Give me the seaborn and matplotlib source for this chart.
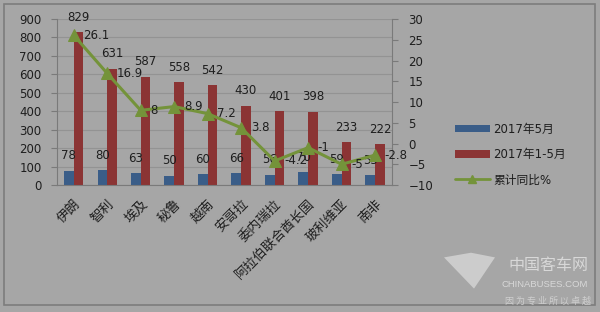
import numpy as np
import pandas as pd
import matplotlib
matplotlib.use("Agg")
import matplotlib.pyplot as plt
import seaborn as sns
from matplotlib.patches import Patch, Rectangle, Polygon
from matplotlib.lines import Line2D

# ---- data ----
countries = ["伊朗", "智利", "埃及", "秘鲁", "越南", "安哥拉", "委内瑞拉",
             "阿拉伯联合酋长国", "玻利维亚", "南非"]
may_2017 = [78, 80, 63, 50, 60, 66, 56, 70, 59, 55]
jan_may_2017 = [829, 631, 587, 558, 542, 430, 401, 398, 233, 222]
yoy_pct = [26.1, 16.9, 8, 8.9, 7.2, 3.8, -4.2, -1, -5, -2.8]
series_names = ["2017年5月", "2017年1-5月", "累计同比%"]
left_ticks = list(range(0, 1000, 100))
right_ticks = list(range(-10, 35, 5))

# ---- style ----
BG = "#a6a6a6"
BLUE = "#3a5d88"
RED = "#8b3434"
GREEN = "#74933a"
TXT = "#1e1e1e"
AXC = "#7a7a7a"
GRID = "#939393"

sns.set_theme(style="white")
plt.rcParams["font.family"] = ["DejaVu Sans", "Noto Sans CJK SC"]

df = pd.DataFrame({
    "country": countries * 2,
    "value": may_2017 + jan_may_2017,
    "series": [series_names[0]] * len(countries) + [series_names[1]] * len(countries),
})

fig = plt.figure(figsize=(6.0, 3.12), dpi=100, facecolor=BG)
ax = fig.add_axes([0.095, 0.407, 0.558, 0.532])
ax.set_facecolor(BG)

sns.barplot(data=df, x="country", y="value", hue="series",
            palette=[BLUE, RED], width=0.58, ax=ax, legend=False,
            saturation=1, edgecolor="none")

ax.set_ylim(0, 900)
ax.set_yticks(left_ticks)
ax.set_xlim(-0.5, len(countries) - 0.5)
ax.yaxis.grid(True, color=GRID, linewidth=0.8)
ax.set_axisbelow(True)
ax.set_xlabel("")
ax.set_ylabel("")

for c in ax.containers:
    ax.bar_label(c, padding=6, fontsize=8.5, color=TXT)

ax.tick_params(axis="y", length=4, width=0.8, color=AXC, labelsize=8.5,
               labelcolor=TXT, pad=7, direction="out")
ax.tick_params(axis="x", which="major", length=0, pad=9)
ax.set_xticks(np.arange(-0.5, len(countries), 1.0), minor=True)
ax.tick_params(axis="x", which="minor", length=4, width=0.8, color=AXC,
               direction="out")
ax.set_xticklabels(countries, rotation=45, ha="right", rotation_mode="anchor",
                   fontsize=9.5, color=TXT, family=["Noto Sans CJK SC"])

for s in ["left", "bottom"]:
    ax.spines[s].set_color(AXC)
    ax.spines[s].set_linewidth(0.8)
ax.spines["top"].set_visible(False)
ax.spines["right"].set_visible(False)

ax2 = ax.twinx()
xpos = np.arange(len(countries))
sns.lineplot(x=xpos, y=yoy_pct, ax=ax2, color=GREEN, linewidth=2.2,
             marker="^", markersize=8.5, markeredgecolor=GREEN, legend=False)
ax2.set_ylim(-10, 30)
ax2.set_yticks(right_ticks)
ax2.tick_params(axis="y", length=4, width=0.8, color=AXC, labelsize=8.5,
                labelcolor=TXT, pad=8, direction="out")
for s in ["left", "top", "bottom"]:
    ax2.spines[s].set_visible(False)
ax2.spines["right"].set_color(AXC)
ax2.spines["right"].set_linewidth(0.8)
ax2.set_ylabel("")
ax2.grid(False)
for x, v in zip(xpos, yoy_pct):
    ax2.annotate(f"{v:g}", (x, v), xytext=(7, 0), textcoords="offset points",
                 ha="left", va="center", fontsize=8.5, color=TXT)

# legend
handles = [Patch(facecolor=BLUE, edgecolor="none"),
           Patch(facecolor=RED, edgecolor="none"),
           Line2D([0], [0], color=GREEN, lw=2, marker="^", markersize=6)]
leg = fig.legend(handles, series_names, loc="center left",
                 bbox_to_anchor=(0.74, 0.505), frameon=False, fontsize=8.5,
                 handlelength=3.0, handleheight=0.6, handletextpad=0.3,
                 labelspacing=1.05, labelcolor=TXT)

# frame border
fig.patches.append(Rectangle((0.006, 0.022), 0.986, 0.966, transform=fig.transFigure,
                             fill=False, edgecolor="#7d7d7d", linewidth=1.2))

# watermark
fig.patches.append(Polygon([[0.740, 0.175], [0.785, 0.19], [0.825, 0.175],
                            [0.79, 0.075]], closed=True, transform=fig.transFigure,
                           facecolor="#d6d6d6", edgecolor="none", alpha=0.8))
fig.text(0.98, 0.15, "中国客车网", family=["Noto Sans CJK SC"], fontsize=11.5,
         color="#d8d8d8", ha="right", va="center")
fig.text(0.98, 0.088, "CHINABUSES.COM", fontsize=6.8, color="#d8d8d8",
         ha="right", va="center", family=["Liberation Sans"])
fig.text(0.985, 0.035, "因 为 专 业 所 以 卓 越", family=["Noto Sans CJK SC"],
         fontsize=6.5, color="#cfcfcf", ha="right", va="center")

fig.savefig("out.png", dpi=100, facecolor=BG)
